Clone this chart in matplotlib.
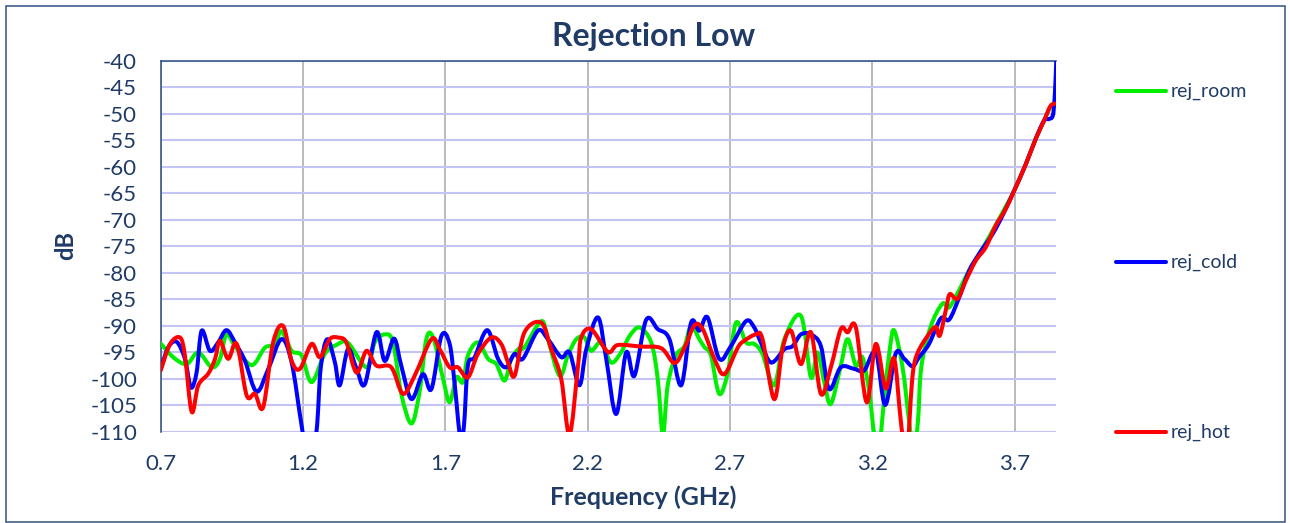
import numpy as np
import matplotlib
matplotlib.use("Agg")
import matplotlib.pyplot as plt
from matplotlib.path import Path
from matplotlib.patches import PathPatch, Rectangle
from matplotlib.lines import Line2D

plt.rcParams["font.family"] = ["Lato", "DejaVu Sans"]
plt.rcParams["axes.unicode_minus"] = False

# ---------------------------------------------------------------------------
# Data
# ---------------------------------------------------------------------------
freq_room = [0.700, 0.744, 0.791, 0.832, 0.879, 0.908, 0.931, 0.961, 1.019, 1.066,
             1.101, 1.124, 1.160, 1.195, 1.230, 1.276, 1.317, 1.358, 1.423, 1.452,
             1.487, 1.516, 1.545, 1.581, 1.610, 1.633, 1.657, 1.692, 1.715, 1.739,
             1.762, 1.779, 1.814, 1.850, 1.879, 1.908, 1.932, 1.960, 1.978, 2.037,
             2.060, 2.101, 2.130, 2.160, 2.189, 2.212, 2.247, 2.282, 2.317, 2.347,
             2.382, 2.423, 2.446, 2.464, 2.481, 2.510, 2.540, 2.563, 2.592, 2.610,
             2.633, 2.662, 2.692, 2.721, 2.756, 2.785, 2.814, 2.855, 2.891, 2.949,
             2.984, 3.007, 3.031, 3.054, 3.089, 3.113, 3.142, 3.165, 3.189, 3.206,
             3.222, 3.241, 3.262, 3.277, 3.306, 3.329, 3.345, 3.360, 3.372, 3.405,
             3.446, 3.470, 3.510, 3.540, 3.575, 3.633, 3.698, 3.739, 3.774, 3.803,
             3.826, 3.845]
rej_room = [-93.3, -95.9, -97.2, -95.0, -97.8, -96.2, -91.6, -93.8, -97.4, -94.1,
            -93.6, -91.0, -94.7, -95.6, -100.6, -95.3, -93.6, -93.2, -97.8, -93.1,
            -91.6, -93.1, -102.8, -108.4, -102.2, -92.5, -92.2, -100.0, -104.4, -99.7,
            -100.6, -95.6, -93.1, -96.2, -97.2, -100.3, -96.2, -94.2, -94.0, -89.1,
            -92.5, -99.4, -95.6, -92.5, -92.2, -94.7, -93.1, -96.9, -95.0, -91.9,
            -90.3, -93.1, -100.0, -110.5, -101.2, -95.6, -93.8, -90.0, -92.5, -94.0,
            -95.6, -102.8, -98.8, -89.4, -93.1, -93.4, -95.3, -101.2, -92.5, -88.1,
            -99.7, -95.0, -100.6, -104.7, -97.5, -92.5, -97.5, -95.9, -102.5, -110.3,
            -114.0, -104.0, -94.0, -90.9, -97.8, -108.0, -114.0, -108.0, -97.7, -90.1,
            -85.8, -86.5, -82.7, -79.5, -76.5, -71.0, -64.5, -59.5, -54.7, -51.3,
            -48.7, -48.0]

freq_cold = [0.700, 0.727, 0.756, 0.785, 0.806, 0.826, 0.844, 0.873, 0.902, 0.931,
             0.961, 0.996, 1.037, 1.078, 1.124, 1.160, 1.195, 1.220, 1.247, 1.262,
             1.285, 1.312, 1.329, 1.358, 1.388, 1.417, 1.458, 1.487, 1.520, 1.545,
             1.581, 1.621, 1.651, 1.686, 1.715, 1.733, 1.752, 1.765, 1.779, 1.803,
             1.847, 1.885, 1.914, 1.943, 1.972, 2.025, 2.060, 2.107, 2.136, 2.171,
             2.195, 2.236, 2.265, 2.300, 2.335, 2.364, 2.405, 2.446, 2.487, 2.528,
             2.563, 2.592, 2.621, 2.662, 2.703, 2.756, 2.785, 2.808, 2.844, 2.891,
             2.920, 2.949, 2.984, 3.019, 3.048, 3.089, 3.136, 3.171, 3.212, 3.245,
             3.282, 3.312, 3.341, 3.364, 3.399, 3.440, 3.470, 3.505, 3.540, 3.575,
             3.622, 3.657, 3.698, 3.739, 3.774, 3.803, 3.820, 3.834, 3.841, 3.846]
rej_cold = [-98.1, -94.0, -93.0, -96.2, -101.6, -98.8, -90.9, -94.7, -93.1, -90.8,
            -93.1, -96.6, -102.4, -98.1, -92.5, -96.9, -108.8, -116.0, -110.0, -98.0,
            -92.5, -96.9, -101.2, -94.4, -98.1, -101.0, -91.2, -96.6, -92.4, -97.5,
            -103.8, -99.1, -101.9, -91.9, -93.4, -101.2, -111.0, -109.0, -97.5, -95.9,
            -90.8, -96.2, -97.8, -95.3, -96.2, -90.9, -92.5, -95.9, -95.0, -101.2,
            -94.4, -88.4, -96.2, -106.6, -95.0, -99.4, -88.9, -90.6, -92.5, -101.2,
            -89.4, -90.9, -88.4, -96.2, -93.8, -89.1, -90.3, -93.1, -96.9, -94.4,
            -93.8, -91.6, -91.6, -93.8, -101.9, -97.8, -98.1, -98.4, -95.0, -104.9,
            -95.2, -96.2, -97.6, -95.9, -93.4, -88.6, -88.8, -84.6, -79.6, -76.4,
            -72.7, -69.2, -64.5, -59.5, -54.7, -51.3, -51.0, -50.3, -46.3, -40.0]

freq_hot = [0.700, 0.733, 0.768, 0.785, 0.809, 0.832, 0.867, 0.891, 0.908, 0.937,
            0.967, 1.002, 1.031, 1.060, 1.095, 1.130, 1.160, 1.189, 1.230, 1.259,
            1.294, 1.323, 1.352, 1.388, 1.423, 1.458, 1.510, 1.551, 1.592, 1.651,
            1.680, 1.715, 1.744, 1.779, 1.814, 1.861, 1.896, 1.920, 1.943, 1.978,
            2.037, 2.072, 2.107, 2.136, 2.166, 2.177, 2.212, 2.271, 2.306, 2.388,
            2.458, 2.505, 2.540, 2.575, 2.604, 2.645, 2.680, 2.727, 2.750, 2.791,
            2.814, 2.855, 2.884, 2.914, 2.949, 2.984, 3.019, 3.054, 3.089, 3.113,
            3.142, 3.180, 3.212, 3.247, 3.276, 3.300, 3.320, 3.340, 3.358, 3.399,
            3.423, 3.437, 3.460, 3.472, 3.499, 3.528, 3.563, 3.598, 3.633, 3.668,
            3.698, 3.739, 3.774, 3.803, 3.826, 3.845]
rej_hot = [-98.4, -93.4, -92.2, -95.6, -106.2, -101.2, -99.0, -96.2, -92.8, -96.2,
           -93.4, -103.1, -102.8, -105.3, -93.1, -90.0, -96.6, -98.1, -93.4, -95.9,
           -92.5, -92.2, -93.1, -98.8, -94.7, -97.5, -97.8, -102.8, -99.4, -92.5,
           -94.4, -97.8, -97.8, -99.7, -95.3, -92.2, -93.4, -96.9, -99.4, -91.2,
           -89.4, -94.4, -100.0, -110.5, -97.5, -92.2, -90.6, -94.9, -93.6, -93.9,
           -94.2, -97.0, -94.1, -89.9, -90.6, -96.2, -99.1, -94.1, -92.8, -91.6,
           -92.5, -103.8, -94.4, -90.9, -97.2, -91.2, -102.8, -97.8, -90.6, -91.2,
           -90.3, -104.4, -93.4, -101.8, -96.1, -108.0, -115.0, -100.0, -95.2, -91.5,
           -90.2, -91.8, -86.5, -84.0, -84.9, -81.5, -77.7, -75.2, -71.1, -68.0,
           -64.5, -59.5, -54.7, -51.3, -48.5, -48.1]

series_names = ["rej_room", "rej_cold", "rej_hot"]
series_colors = ["#00ee00", "#0000ff", "#ff0000"]
x_ticks = [0.7, 1.2, 1.7, 2.2, 2.7, 3.2, 3.7]
y_ticks = list(range(-110, -35, 5))

TEXT = "#1f3b66"
W, H = 1290, 523


def smooth_path(x, y):
    """Excel-like smoothed line: Catmull-Rom segments as cubic Beziers."""
    pts = np.column_stack([x, y]).astype(float)
    verts = [pts[0]]
    codes = [Path.MOVETO]
    n = len(pts)
    for i in range(n - 1):
        p0 = pts[i - 1] if i > 0 else pts[i]
        p1, p2 = pts[i], pts[i + 1]
        p3 = pts[i + 2] if i + 2 < n else pts[i + 1]
        verts += [p1 + (p2 - p0) / 6, p2 - (p3 - p1) / 6, p2]
        codes += [Path.CURVE4] * 3
    return Path(verts, codes)


fig = plt.figure(figsize=(W / 100, H / 100), dpi=100)
ax = fig.add_axes([160.7 / W, 1 - 432 / H, (1056 - 160.7) / W, (432 - 60.7) / H])

series = [(freq_room, rej_room), (freq_cold, rej_cold), (freq_hot, rej_hot)]
for (fx, fy), color in zip(series, series_colors):
    ax.add_patch(PathPatch(smooth_path(fx, fy), fill=False, edgecolor=color,
                           lw=2.9, capstyle="round", joinstyle="round", zorder=3))

ax.set_xlim(0.7, 3.845)
ax.set_ylim(-110, -40)
ax.set_xticks(x_ticks)
ax.set_xticklabels([f"{t:.1f}" for t in x_ticks])
ax.set_yticks(y_ticks)
ax.tick_params(length=0, labelsize=16, labelcolor=TEXT)
ax.tick_params(axis="x", pad=16)
ax.tick_params(axis="y", pad=17)

# grid: light blue horizontals, gray verticals
ax.yaxis.grid(True, color="#c4c4f4", lw=1.5, zorder=0)
ax.xaxis.grid(True, color="#a8a8a8", lw=1.1, zorder=0)
ax.set_axisbelow(True)
for side in ["right", "bottom"]:
    ax.spines[side].set_visible(False)
for side in ["left", "top"]:
    ax.spines[side].set_color("#2b4c7e")
    ax.spines[side].set_linewidth(1.1)

fig.text(654 / W, 1 - 36 / H, "Rejection Low", ha="center", va="center",
         fontsize=23, fontweight="bold", color=TEXT)
fig.text(643 / W, 1 - 497 / H, "Frequency (GHz)", ha="center", va="center",
         fontsize=18, fontweight="bold", color=TEXT)
fig.text(66 / W, 1 - 246 / H, "dB", ha="center", va="center", rotation=90,
         fontsize=17, fontweight="bold", color=TEXT)

# legend on the right, entries spread over the plot height
legend_y = [91, 262, 432]
for name, color, ly in zip(series_names, series_colors, legend_y):
    yf = 1 - ly / H
    fig.add_artist(Line2D([1116 / W, 1166 / W], [yf, yf], color=color, lw=2.9,
                          solid_capstyle="round", transform=fig.transFigure))
    fig.text(1171 / W, yf, name, ha="left", va="center", fontsize=14, color=TEXT)

# chart area border
fig.add_artist(Rectangle((6 / W, 1 / H), 1279 / W, (517 - 1) / H, fill=False,
                         edgecolor="#3f5f8c", lw=1.2, transform=fig.transFigure))

fig.savefig("out.png", dpi=100)
